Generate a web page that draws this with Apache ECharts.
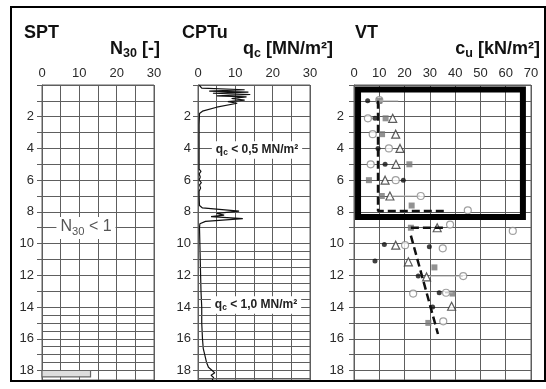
<!DOCTYPE html>
<html>
<head>
<meta charset="utf-8">
<script src="https://cdn.jsdelivr.net/npm/echarts@6/dist/echarts.min.js"></script>
<style>
  html, body { margin: 0; padding: 0; background: #fff; }
  #chart { width: 546px; height: 389px; }
</style>
</head>
<body>
<div id="chart"></div>
<script>
// depth axis (m), shared by the three panels
const depthMax = 18.6;
const depthLabels = [2, 4, 6, 8, 10, 12, 14, 16, 18];
const sptHalfLines = [14.5, 15.5, 16.5, 17.5];
const cptHalfLines = [10.5, 11.5, 12.5, 13.5, 14.5, 15.5, 16.5, 17.5, 18.5];

// SPT: one bar [N30 from, N30 to, depth top, depth bottom]
const sptBars = [[0, 13, 18.0, 18.4]];

// CPTu: qc [MN/m2] against depth [m]
const cptQc = [0.3, 1, 12.5, 3, 13.5, 4, 14, 5, 13, 9, 12.5, 8, 10.5, 5, 1.2, 0.4, 0.3, 0.3, 0.3, 0.3,
  0.8, 0.3, 0.6, 0.3, 0.9, 0.4, 0.7, 0.3, 0.3, 0.4, 1.2, 11, 5, 7, 3.5, 12, 2, 0.5, 0.4,
  0.5, 0.6, 0.7, 0.8, 1.0, 1.0, 1.2, 1.4, 1.8, 2.3, 2.8, 3.8, 4.5, 3.5, 4.2, 3.8];
const cptDepth = [0.0, 0.2, 0.3, 0.38, 0.45, 0.52, 0.6, 0.68, 0.75, 0.85, 0.95, 1.05, 1.15, 1.4, 1.65, 1.8, 2.5, 3.5, 4.5, 5.3,
  5.45, 5.6, 5.8, 6.0, 6.15, 6.3, 6.5, 6.7, 7.0, 7.6, 7.75, 7.95, 8.1, 8.2, 8.3, 8.42, 8.6, 8.75, 9.0,
  10, 11, 12, 13, 14, 15, 16, 16.6, 17, 17.5, 17.8, 18.0, 18.15, 18.3, 18.45, 18.6];

// VT: cu [kN/m2], depth [m]
const vtFilled = [[5.4, 1.0], [8.3, 2.1], [9.5, 4.0], [12.3, 5.0], [19.5, 6.0], [12, 10.05], [29.8, 10.2],
  [8.3, 11.1], [25.4, 12.05], [33.7, 13.1], [31.1, 14.0]];
const vtOpen = [[10, 0.95], [5.5, 2.1], [7.4, 3.1], [13.8, 4.0], [6.6, 5.0], [16.5, 6.0], [26.4, 7.0], [45, 7.9],
  [38, 8.8], [62.8, 9.2], [20.2, 10.1], [35.1, 10.3], [43.2, 12.05], [23.4, 13.15], [36.4, 13.1], [35.3, 14.9]];
const vtTriangle = [[15.3, 2.1], [16.5, 3.1], [18.2, 4.0], [16.6, 5.0], [12.3, 6.0], [14.2, 7.0], [32.9, 9.0],
  [16.5, 10.1], [21.5, 11.15], [28.7, 12.1], [38.6, 13.95]];
const vtSquare = [[10, 1.0], [12.5, 2.1], [11.1, 3.1], [21.9, 5.0], [5.9, 6.0], [11, 7.0], [22.8, 7.6],
  [22.5, 9.0], [31.8, 11.5], [39, 13.15], [29.4, 15.0]];
const vtTrend = [
  [[9.5, 1.0], [9.5, 7.95], [36.5, 7.95]],
  [[22.5, 9.0], [36, 9.0]],
  [[22.5, 9.5], [33.2, 15.7]]
];
const vtFaint = [
  [[10, 1.0], [17.5, 1.0]],
  [[15, 7.0], [26, 7.0]],
  [[30, 12.05], [43, 12.05]],
  [[36, 13.1], [39, 13.1]]
];
// framed zone [cu from, cu to, depth top, depth bottom]
const vtBox = [[1.6, 66.8, 0.28, 8.33]];

const gridColor = '#5e5e5e';
const font = '"Liberation Sans", Arial, sans-serif';

const chart = echarts.init(document.getElementById('chart'));

function xAxisFor(gridIndex, max, minor) {
  return {
    gridIndex, type: 'value', position: 'top', min: 0, max, interval: 10,
    axisLine: { show: true, lineStyle: { color: gridColor, width: 1 } },
    axisTick: { show: false },
    axisLabel: { margin: 5, fontSize: 13, color: '#2a2a2a', fontFamily: font },
    splitLine: { show: true, lineStyle: { color: gridColor, width: 1 } },
    minorTick: { show: false, splitNumber: 2 },
    minorSplitLine: { show: minor, lineStyle: { color: gridColor, width: 1 } }
  };
}

function yAxisFor(gridIndex, margin) {
  return {
    gridIndex, type: 'value', inverse: true, min: 0, max: depthMax, interval: 1,
    axisLine: { show: true, lineStyle: { color: gridColor, width: 1 } },
    axisTick: { show: true, length: 5, lineStyle: { color: gridColor } },
    axisLabel: {
      margin, fontSize: 13, color: '#2a2a2a', fontFamily: font,
      formatter: v => (depthLabels.includes(v) ? String(v) : '')
    },
    splitLine: { show: true, lineStyle: { color: gridColor, width: 1 } }
  };
}

function halfLines(idx, list) {
  return {
    type: 'line', xAxisIndex: idx, yAxisIndex: idx, data: [], silent: true,
    markLine: {
      silent: true, symbol: 'none', label: { show: false },
      lineStyle: { color: gridColor, width: 1, type: 'solid' },
      data: list.map(d => ({ yAxis: d }))
    }
  };
}

function rectItem(style) {
  return function (params, api) {
    const p0 = api.coord([api.value(0), api.value(2)]);
    const p1 = api.coord([api.value(1), api.value(3)]);
    return {
      type: 'rect',
      shape: { x: p0[0], y: p0[1], width: p1[0] - p0[0], height: p1[1] - p0[1] },
      style
    };
  };
}

const series = [
  halfLines(0, sptHalfLines),
  halfLines(1, cptHalfLines),
  {
    type: 'custom', xAxisIndex: 0, yAxisIndex: 0, data: sptBars,
    encode: { x: [0, 1], y: [2, 3] },
    renderItem: rectItem({ fill: '#dedede', stroke: '#666', lineWidth: 1.2 })
  },
  {
    type: 'line', xAxisIndex: 1, yAxisIndex: 1, symbol: 'none',
    data: cptQc.map((q, i) => [q, cptDepth[i]]),
    lineStyle: { color: '#111', width: 1.2 }
  }
];

vtFaint.forEach(seg => series.push({
  type: 'line', xAxisIndex: 2, yAxisIndex: 2, symbol: 'none', data: seg,
  lineStyle: { color: '#bbb', width: 1 }
}));
vtTrend.forEach(seg => series.push({
  type: 'line', xAxisIndex: 2, yAxisIndex: 2, symbol: 'none', data: seg,
  lineStyle: { color: '#111', width: 2.5, type: [8, 4] }
}));

series.push(
  { type: 'scatter', xAxisIndex: 2, yAxisIndex: 2, data: vtOpen, symbol: 'circle', symbolSize: 7,
    itemStyle: { color: '#fff', borderColor: '#888', borderWidth: 1.2 } },
  { type: 'scatter', xAxisIndex: 2, yAxisIndex: 2, data: vtTriangle, symbol: 'triangle', symbolSize: 8,
    itemStyle: { color: '#fff', borderColor: '#333', borderWidth: 1.2 } },
  { type: 'scatter', xAxisIndex: 2, yAxisIndex: 2, data: vtSquare, symbol: 'rect', symbolSize: 6,
    itemStyle: { color: '#777' } },
  { type: 'scatter', xAxisIndex: 2, yAxisIndex: 2, data: vtFilled, symbol: 'circle', symbolSize: 5,
    itemStyle: { color: '#111' } },
  {
    type: 'custom', xAxisIndex: 2, yAxisIndex: 2, data: vtBox, z: 10,
    encode: { x: [0, 1], y: [2, 3] },
    renderItem: rectItem({ fill: 'none', stroke: '#000', lineWidth: 6 })
  }
);

// rich text with a lowered subscript: the subscript token sits at the bottom of a slightly taller line
function subRich(size, subSize, bold, color) {
  const w = bold ? 'bold' : 'normal';
  return {
    a: { fontSize: size, fontWeight: w, fontFamily: font, lineHeight: size, verticalAlign: 'top', fill: color },
    b: { fontSize: subSize, fontWeight: w, fontFamily: font, lineHeight: size * 0.77 + subSize * 0.5, verticalAlign: 'bottom', fill: color }
  };
}

function unitText(x, main, sub, rest) {
  return {
    type: 'text', x, y: 40, z: 20,
    style: {
      text: `{a|${main}}{b|${sub}}{a|${rest}}`, align: 'right', verticalAlign: 'top',
      rich: subRich(18, 12.5, true, '#111')
    }
  };
}

function noteText(x, y, main, sub, rest, size, bold, color) {
  return {
    type: 'text', x, y, z: 20,
    style: {
      text: `{a|${main}}{b|${sub}}{a|${rest}}`, align: 'center', verticalAlign: 'middle',
      backgroundColor: '#fff', padding: [2, 4],
      rich: subRich(size, size * 0.7, bold, color)
    }
  };
}

function title(x, text) {
  return {
    type: 'text', x, y: 33, z: 20,
    style: { text, font: `bold 18px ${font}`, fill: '#111', verticalAlign: 'middle' }
  };
}

chart.setOption({
  animation: false,
  grid: [
    { left: 42, width: 112, top: 85, height: 295, show: true, borderColor: gridColor, borderWidth: 1 },
    { left: 198, width: 112, top: 85, height: 295, show: true, borderColor: gridColor, borderWidth: 1 },
    { left: 354, width: 177, top: 85, height: 295, show: true, borderColor: gridColor, borderWidth: 1 }
  ],
  xAxis: [xAxisFor(0, 30, true), xAxisFor(1, 30, true), xAxisFor(2, 70, false)],
  yAxis: [yAxisFor(0, 8), yAxisFor(1, 7), yAxisFor(2, 10)],
  series,
  graphic: [
    { type: 'rect', shape: { x: 11, y: 7, width: 534, height: 374 }, style: { fill: 'none', stroke: '#000', lineWidth: 2 }, z: 30 },
    title(24, 'SPT'),
    title(182, 'CPTu'),
    title(355, 'VT'),
    unitText(160, 'N', '30', ' [-]'),
    unitText(333, 'q', 'c', ' [MN/m²]'),
    unitText(540, 'c', 'u', ' [kN/m²]'),
    noteText(86, 228, 'N', '30', ' < 1', 16, false, '#555'),
    noteText(257, 150, 'q', 'c', ' < 0,5 MN/m²', 12, true, '#222'),
    noteText(256, 305, 'q', 'c', ' < 1,0 MN/m²', 12, true, '#222')
  ]
});
</script>
</body>
</html>
